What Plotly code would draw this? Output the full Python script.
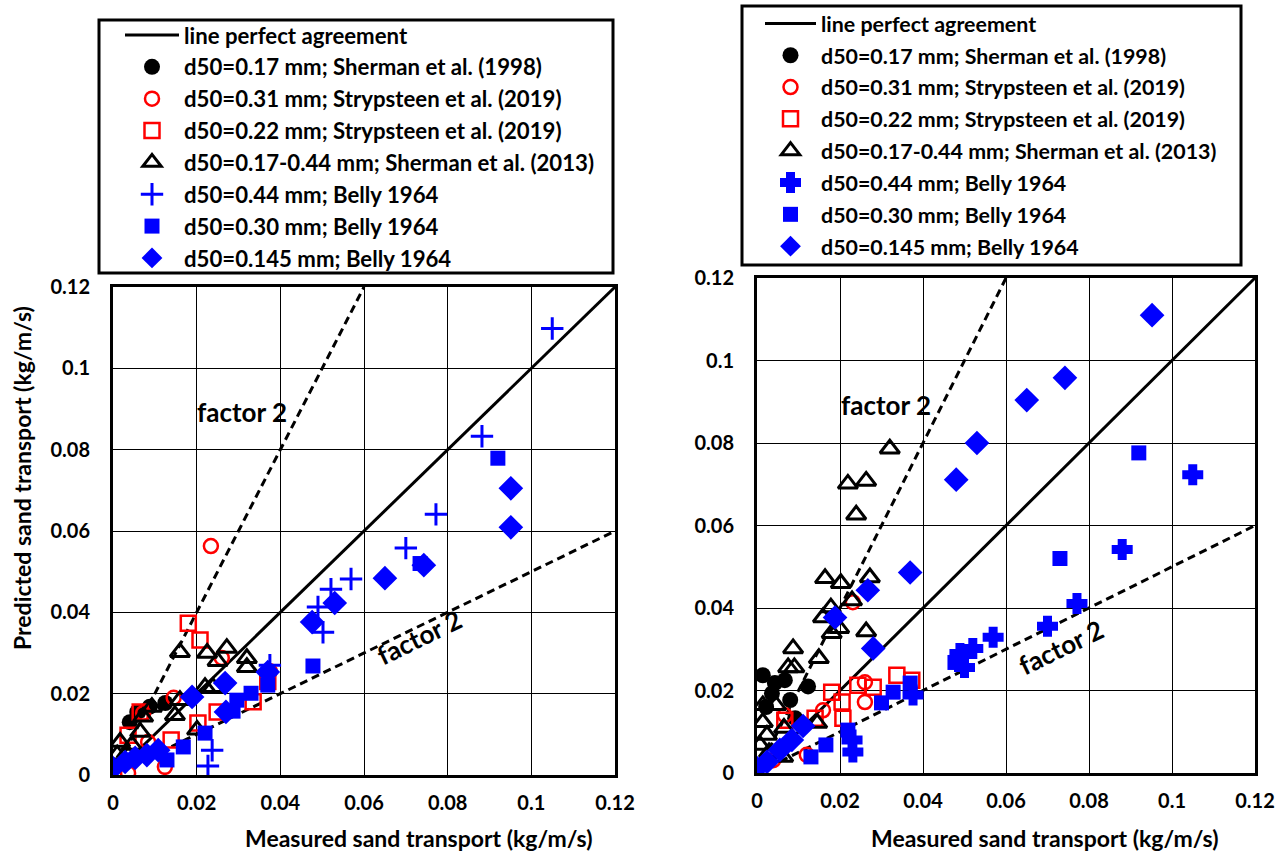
import plotly.graph_objects as go

# ---------------- data ----------------
ref_x = [0.0, 0.12]
ref_y = [0.0, 0.12]
f2_up_x = [0.0, 0.06]
f2_up_y = [0.0, 0.12]
f2_lo_x = [0.0, 0.12]
f2_lo_y = [0.0, 0.06]

names = ["d50=0.17 mm; Sherman et al. (1998)",
         "d50=0.31 mm; Strypsteen et al. (2019)",
         "d50=0.22 mm; Strypsteen et al. (2019)",
         "d50=0.17-0.44 mm; Sherman et al. (2013)",
         "d50=0.44 mm; Belly 1964",
         "d50=0.30 mm; Belly 1964",
         "d50=0.145 mm; Belly 1964"]

# left panel
L_sh98_x = [0.004, 0.0058, 0.0088, 0.0125]
L_sh98_y = [0.0130, 0.0155, 0.0168, 0.0177]
L_st31_x = [0.0234, 0.026, 0.0072, 0.0084, 0.0124, 0.0036, 0.0375, 0.0145]
L_st31_y = [0.0563, 0.0288, 0.0152, 0.0081, 0.002, 0.0005, 0.0255, 0.019]
L_st22_x = [0.018, 0.0208, 0.0335, 0.0249, 0.0203, 0.0139, 0.0036, 0.0065, 0.037]
L_st22_y = [0.0373, 0.0332, 0.018, 0.0155, 0.0128, 0.0086, 0.0098, 0.0155, 0.023]
L_sh13_x = [0.016, 0.0225, 0.0272, 0.025, 0.032, 0.032, 0.022, 0.0239, 0.016, 0.0148,
            0.0201, 0.0093, 0.0072, 0.0065, 0.0017, 0.0045, 0.0033, 0.001]
L_sh13_y = [0.0302, 0.030, 0.0312, 0.028, 0.0287, 0.0265, 0.0216, 0.0216, 0.0184, 0.0147,
            0.0111, 0.0167, 0.0143, 0.0106, 0.0081, 0.0074, 0.0054, 0.005]
L_b44_x = [0.105, 0.0882, 0.0772, 0.070, 0.0569, 0.0521, 0.049, 0.0502, 0.0375, 0.0237, 0.0227]
L_b44_y = [0.1098, 0.0833, 0.0641, 0.0558, 0.0482, 0.0457, 0.0413, 0.0351, 0.027, 0.0061, 0.0022]
L_b30_x = [0.092, 0.0734, 0.0478, 0.037, 0.033, 0.0296, 0.0287, 0.022, 0.0168, 0.0129]
L_b30_y = [0.0779, 0.052, 0.0268, 0.0221, 0.0201, 0.0184, 0.0157, 0.0103, 0.0069, 0.0037]
L_b145_x = [0.0, 0.0029, 0.0053, 0.0081, 0.0108, 0.0189, 0.0268, 0.027, 0.037, 0.0476,
            0.053, 0.065, 0.0743, 0.0951, 0.0951]
L_b145_y = [0.0017, 0.0032, 0.0042, 0.0049, 0.0061, 0.0192, 0.0226, 0.0155, 0.0253, 0.0376,
            0.0423, 0.0484, 0.0516, 0.0705, 0.0609]

# right panel
R_sh98_x = [0.0014, 0.0043, 0.0067, 0.0123, 0.0036, 0.008, 0.0022, 0.0092]
R_sh98_y = [0.0237, 0.0218, 0.0225, 0.021, 0.0193, 0.0177, 0.016, 0.0133]
R_st31_x = [0.0231, 0.026, 0.026, 0.0159, 0.012, 0.0039, 0.0067]
R_st31_y = [0.0414, 0.022, 0.0172, 0.0152, 0.0044, 0.0031, 0.014]
R_st22_x = [0.0337, 0.0373, 0.0243, 0.028, 0.018, 0.0205, 0.0207, 0.014, 0.0067]
R_st22_y = [0.0237, 0.0225, 0.0213, 0.0208, 0.0196, 0.0172, 0.0133, 0.0133, 0.0128]
R_sh13_x = [0.032, 0.0219, 0.0263, 0.0239, 0.0164, 0.0202, 0.0272, 0.0229, 0.0178, 0.0159,
            0.0198, 0.018, 0.0263, 0.0087, 0.0149, 0.0075, 0.009, 0.0014, 0.0046, 0.0014,
            0.0065, 0.0145, 0.0024, 0.0007, 0.0063, 0.0029]
R_sh13_y = [0.0786, 0.0701, 0.0708, 0.0626, 0.0472, 0.046, 0.0474, 0.0418, 0.0401, 0.0377,
            0.0351, 0.0339, 0.0343, 0.0302, 0.0278, 0.0256, 0.0256, 0.0164, 0.0164, 0.0123,
            0.0109, 0.0121, 0.0092, 0.0068, 0.0039, 0.0050]
R_b44_x = [0.105, 0.088, 0.0771, 0.070, 0.0569, 0.052, 0.050, 0.0489, 0.0376, 0.0229, 0.0231]
R_b44_y = [0.0723, 0.0542, 0.0411, 0.0356, 0.0329, 0.0302, 0.0256, 0.029, 0.0189, 0.008, 0.0051]
R_b30_x = [0.092, 0.073, 0.0477, 0.030, 0.0328, 0.0369, 0.0219, 0.0166, 0.013]
R_b30_y = [0.0776, 0.052, 0.0268, 0.017, 0.0196, 0.0218, 0.0104, 0.0068, 0.0039]
R_b145_x = [0.0, 0.0024, 0.0055, 0.0084, 0.0111, 0.0188, 0.0267, 0.028, 0.0369, 0.048,
            0.053, 0.065, 0.0742, 0.0952]
R_b145_y = [0.0012, 0.0027, 0.0056, 0.008, 0.0114, 0.0377, 0.0443, 0.0302, 0.0486, 0.0711,
            0.080, 0.0904, 0.0958, 0.111]

tick_vals = [0, 0.02, 0.04, 0.06, 0.08, 0.1, 0.12]
tick_text = ["0", "0.02", "0.04", "0.06", "0.08", "0.1", "0.12"]

# ---------------- figure ----------------
FONT = "Lato"
BLUE = "#0000FF"
RED = "#FF0000"

fig = go.Figure()


def add_panel(xa, ya, leg, sets, plus_symbol, plus_size):
    fig.add_trace(go.Scatter(x=ref_x, y=ref_y, mode="lines", name="line perfect agreement",
                             line=dict(color="black", width=3), xaxis=xa, yaxis=ya,
                             legend=leg, legendgroup=leg + "g0"))
    fig.add_trace(go.Scatter(x=f2_up_x, y=f2_up_y, mode="lines", showlegend=False,
                             line=dict(color="black", width=3, dash="8px,5px"), xaxis=xa, yaxis=ya))
    fig.add_trace(go.Scatter(x=f2_lo_x, y=f2_lo_y, mode="lines", showlegend=False,
                             line=dict(color="black", width=3, dash="8px,5px"), xaxis=xa, yaxis=ya))
    styles = [
        dict(symbol="circle", size=16, color="black", line=dict(width=0)),
        dict(symbol="circle-open", size=14, color=RED, line=dict(color=RED, width=2.5)),
        dict(symbol="square-open", size=15, color=RED, line=dict(color=RED, width=2.5)),
        dict(symbol="triangle-up-open", size=17, color="black", line=dict(color="black", width=3)),
        dict(symbol=plus_symbol, size=plus_size, color=BLUE, line=dict(color=BLUE, width=3)),
        dict(symbol="square", size=15, color=BLUE, line=dict(width=0)),
        dict(symbol="diamond", size=19, color=BLUE, line=dict(width=0)),
    ]
    for i, ((xs, ys), st) in enumerate(zip(sets, styles)):
        fig.add_trace(go.Scatter(x=xs, y=ys, mode="markers", name=names[i], marker=st,
                                 xaxis=xa, yaxis=ya, legend=leg, legendgroup=leg + "g%d" % (i + 1)))


add_panel("x", "y", "legend",
          [(L_sh98_x, L_sh98_y), (L_st31_x, L_st31_y), (L_st22_x, L_st22_y), (L_sh13_x, L_sh13_y),
           (L_b44_x, L_b44_y), (L_b30_x, L_b30_y), (L_b145_x, L_b145_y)], "cross-thin", 16)
add_panel("x2", "y2", "legend2",
          [(R_sh98_x, R_sh98_y), (R_st31_x, R_st31_y), (R_st22_x, R_st22_y), (R_sh13_x, R_sh13_y),
           (R_b44_x, R_b44_y), (R_b30_x, R_b30_y), (R_b145_x, R_b145_y)], "cross", 15)

W, H = 1286, 856

axis_common = dict(range=[0, 0.12], tickvals=tick_vals, ticktext=tick_text, showgrid=True,
                   gridcolor="black", gridwidth=1, showline=True, linecolor="black", linewidth=3,
                   mirror=True, zeroline=False, ticks="", automargin=False,
                   tickfont=dict(family=FONT, size=20, color="black", weight="bold"))


def legend_cfg(x, y, size, indent, iw, gap):
    return dict(x=x, y=y, bgcolor="rgba(0,0,0,0)", borderwidth=0,
                font=dict(family=FONT, size=size, color="black", weight="bold"),
                xanchor="left", yanchor="top", tracegroupgap=gap, itemwidth=iw,
                indentation=indent, traceorder="grouped")


fig.update_layout(
    width=W, height=H, margin=dict(l=0, r=0, t=0, b=0),
    paper_bgcolor="white", plot_bgcolor="white",
    xaxis=dict(domain=[113 / W, 615 / W], anchor="y", ticklabelstandoff=8, **axis_common),
    yaxis=dict(domain=[1 - 775 / H, 1 - 287 / H], anchor="x", ticklabelstandoff=16, **axis_common),
    xaxis2=dict(domain=[757 / W, 1255 / W], anchor="y2", ticklabelstandoff=8, **axis_common),
    yaxis2=dict(domain=[1 - 773 / H, 1 - 278 / H], anchor="x2", ticklabelstandoff=16, **axis_common),
    legend=legend_cfg(102 / W, 1 - 14 / H, 22.2, 18, 54, 0),
    legend2=legend_cfg(741 / W, 1 - 3 / H, 21.4, 19, 51, 1),
    showlegend=True,
)

# legend frames
for (x0, y0, x1, y1) in [(99, 20, 613, 273), (742, 6, 1241, 265)]:
    fig.add_shape(type="rect", xref="paper", yref="paper", x0=x0 / W, x1=x1 / W,
                  y0=1 - y1 / H, y1=1 - y0 / H, line=dict(color="black", width=3),
                  fillcolor="rgba(0,0,0,0)", layer="above")

afont = dict(family=FONT, size=23, color="black", weight="bold")
fig.add_annotation(text="Measured sand transport (kg/m/s)", xref="paper", yref="paper",
                   x=418 / W, y=1 - 838 / H, xanchor="center", yanchor="middle",
                   showarrow=False, font=afont)
fig.add_annotation(text="Measured sand transport (kg/m/s)", xref="paper", yref="paper",
                   x=1044 / W, y=1 - 838 / H, xanchor="center", yanchor="middle",
                   showarrow=False, font=afont)
fig.add_annotation(text="Predicted sand transport (kg/m/s)", xref="paper", yref="paper",
                   x=22 / W, y=1 - 478 / H, xanchor="center", yanchor="middle",
                   showarrow=False, textangle=-90, font=afont)

ffont = dict(family=FONT, size=26, color="black", weight="bold")
fig.add_annotation(text="factor 2", xref="x", yref="y", x=0.0308, y=0.0892, showarrow=False, font=ffont)
fig.add_annotation(text="factor 2", xref="x", yref="y", x=0.0732, y=0.034, showarrow=False,
                   textangle=-26, font=ffont)
fig.add_annotation(text="factor 2", xref="x2", yref="y2", x=0.0311, y=0.0892, showarrow=False, font=ffont)
fig.add_annotation(text="factor 2", xref="x2", yref="y2", x=0.0733, y=0.0305, showarrow=False,
                   textangle=-26, font=ffont)

fig.write_html("out.html")
